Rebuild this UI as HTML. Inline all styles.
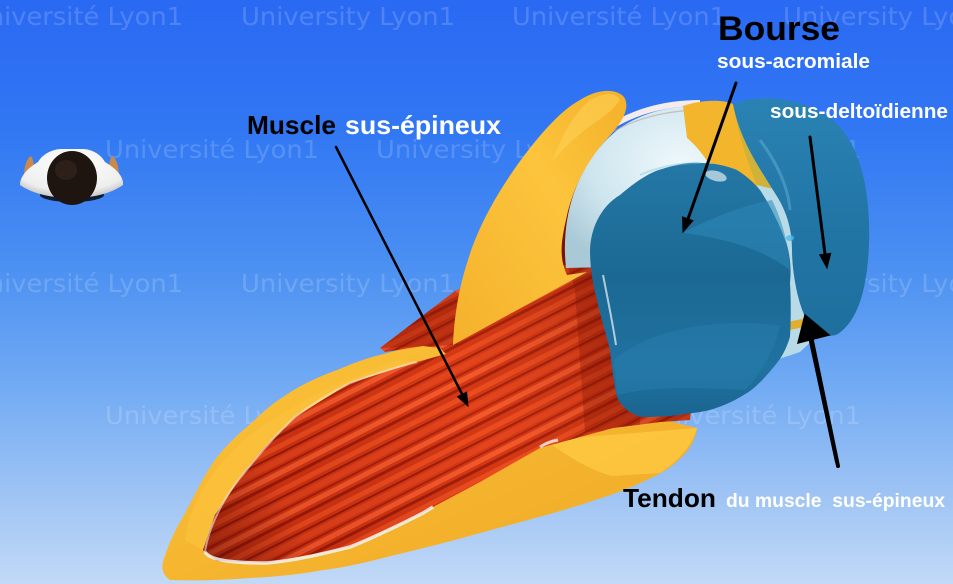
<!DOCTYPE html>
<html>
<head>
<meta charset="utf-8">
<style>
  html,body{margin:0;padding:0;width:953px;height:584px;overflow:hidden;background:#4f8ff2;}
  svg{display:block;}
</style>
</head>
<body>
<svg width="953" height="584" viewBox="0 0 953 584" xmlns="http://www.w3.org/2000/svg">
  <defs>
    <linearGradient id="bg" x1="0" y1="0" x2="0" y2="1">
      <stop offset="0" stop-color="#2a69f3"/>
      <stop offset="0.22" stop-color="#3177f3"/>
      <stop offset="0.45" stop-color="#4a8ff2"/>
      <stop offset="0.65" stop-color="#6fa9f3"/>
      <stop offset="0.82" stop-color="#98c0f4"/>
      <stop offset="1" stop-color="#c2d9f6"/>
    </linearGradient>
    <pattern id="fib" patternUnits="userSpaceOnUse" width="800" height="40" patternTransform="rotate(-27)">
      <rect width="800" height="40" fill="#cf3312"/>
      <rect y="2" width="800" height="5" fill="#e9491d"/>
      <rect y="10" width="800" height="2" fill="#951807"/>
      <rect y="14" width="800" height="6" fill="#e0401a"/>
      <rect y="22" width="800" height="2" fill="#a81d09"/>
      <rect y="26" width="800" height="5" fill="#f2562a"/>
      <rect y="34" width="800" height="3" fill="#9a1906"/>
    </pattern>
    <linearGradient id="mshade" x1="200" y1="560" x2="650" y2="300" gradientUnits="userSpaceOnUse">
      <stop offset="0" stop-color="#4a0802" stop-opacity="0.5"/>
      <stop offset="0.2" stop-color="#4a0802" stop-opacity="0.08"/>
      <stop offset="0.6" stop-color="#ff6a30" stop-opacity="0.1"/>
      <stop offset="1" stop-color="#5a0c02" stop-opacity="0.35"/>
    </linearGradient>
    <clipPath id="mclip">
      <path d="M203,550 L215,515 L240,478 L265,447 L295,417 L350,383 L417,362 L446,354 L440,348 L423,346 L385,352 L380,348 L455,291 L600,225 L700,330 L690,420 L660,422 L613,428 L540,448 L480,482 L433,507 L423,513 L350,547 L267,563 L217,561 Z"/>
    </clipPath>
    <linearGradient id="yel" x1="0" y1="0" x2="1" y2="1">
      <stop offset="0" stop-color="#fbc23a"/>
      <stop offset="1" stop-color="#f0a925"/>
    </linearGradient>
    <linearGradient id="acro" x1="0" y1="1" x2="1" y2="0">
      <stop offset="0" stop-color="#f5b12c"/>
      <stop offset="0.6" stop-color="#fcc43c"/>
      <stop offset="1" stop-color="#f4b02a"/>
    </linearGradient>
    <radialGradient id="headg" cx="0.55" cy="0.35" r="0.7">
      <stop offset="0" stop-color="#eef8fb"/>
      <stop offset="0.6" stop-color="#cfe6ef"/>
      <stop offset="1" stop-color="#a9c9d6"/>
    </radialGradient>
    <linearGradient id="blue1" x1="0" y1="0" x2="0" y2="1">
      <stop offset="0" stop-color="#2478a6"/>
      <stop offset="0.45" stop-color="#1b6893"/>
      <stop offset="0.8" stop-color="#2072a0"/>
      <stop offset="1" stop-color="#1a6590"/>
    </linearGradient>
    <linearGradient id="blue2" x1="0" y1="0" x2="0" y2="1">
      <stop offset="0" stop-color="#2a83b4"/>
      <stop offset="0.5" stop-color="#2176a6"/>
      <stop offset="1" stop-color="#1e6f9e"/>
    </linearGradient>
    <radialGradient id="shoulder" cx="0.5" cy="0.3" r="0.7">
      <stop offset="0" stop-color="#ffffff"/>
      <stop offset="0.8" stop-color="#eeeeee"/>
      <stop offset="1" stop-color="#c8c8c8"/>
    </radialGradient>
  </defs>

  <!-- background -->
  <rect width="953" height="584" fill="url(#bg)"/>

  <!-- watermarks -->
  <g font-family="'DejaVu Sans', Verdana, sans-serif" font-size="25" fill="#ffffff" fill-opacity="0.17">
    <text x="-31" y="25" textLength="214" lengthAdjust="spacingAndGlyphs">Université Lyon1</text>
    <text x="241" y="25" textLength="214" lengthAdjust="spacingAndGlyphs">University Lyon1</text>
    <text x="512" y="25" textLength="214" lengthAdjust="spacingAndGlyphs">Université Lyon1</text>
    <text x="783" y="25" textLength="214" lengthAdjust="spacingAndGlyphs">University Lyon1</text>

    <text x="105" y="158" textLength="214" lengthAdjust="spacingAndGlyphs">Université Lyon1</text>
    <text x="376" y="158" textLength="214" lengthAdjust="spacingAndGlyphs">University Lyon1</text>
    <text x="647" y="158" textLength="214" lengthAdjust="spacingAndGlyphs">Université Lyon1</text>

    <text x="-31" y="292" textLength="214" lengthAdjust="spacingAndGlyphs">Université Lyon1</text>
    <text x="241" y="292" textLength="214" lengthAdjust="spacingAndGlyphs">University Lyon1</text>
    <text x="512" y="292" textLength="214" lengthAdjust="spacingAndGlyphs">Université Lyon1</text>
    <text x="783" y="292" textLength="214" lengthAdjust="spacingAndGlyphs">University Lyon1</text>

    <text x="105" y="424" textLength="214" lengthAdjust="spacingAndGlyphs">Université Lyon1</text>
    <text x="376" y="424" textLength="214" lengthAdjust="spacingAndGlyphs">University Lyon1</text>
    <text x="647" y="424" textLength="214" lengthAdjust="spacingAndGlyphs">Université Lyon1</text>
  </g>

  <!-- little figure seen from above -->
  <g>
    <ellipse cx="72" cy="195" rx="32" ry="7" fill="#0f1c36"/>
    <path d="M24,176 C24,166 27,158 31,156 C34,160 35,170 33,180 Z" fill="#c98a4a"/>
    <path d="M119,176 C119,166 116,158 112,156 C109,160 108,170 110,180 Z" fill="#c98a4a"/>
    <path d="M20,185 C20,176 28,168 38,162 C42,155 50,150 60,149 L84,149 C94,150 101,155 105,162 C115,168 124,176 123,185 C110,194 92,198 72,198 C52,198 33,194 20,185 Z" fill="url(#shoulder)"/>
    <ellipse cx="72" cy="178" rx="25" ry="27" fill="#1e1510"/>
    <ellipse cx="66" cy="170" rx="11" ry="10" fill="#3a2a20" opacity="0.55"/>
  </g>

  <!-- scapula (yellow) incl. lower fin -->
  <path d="M170,580 C164,576 161,570 163,562 C168,545 175,530 183,517 C195,495 205,473 217,457 C227,445 236,436 247,427 C260,415 270,405 283,397 C300,385 318,377 337,370 C352,364 366,358 380,355 C397,350 410,347 423,346 C432,346 440,347 446,353 L520,420 L640,416 C660,418 680,424 697,428 C696,436 693,443 688,450 C678,462 668,470 655,476 C635,486 615,494 595,500 C560,512 520,522 480,533 C445,543 415,550 383,558 C360,564 340,568 317,571 C295,575 272,577 250,578 C225,580 198,581 170,580 Z" fill="url(#yel)"/>
  <!-- fin lighter facet -->
  <path d="M545,440 L697,428 C693,443 680,460 660,473 L612,476 C590,470 570,458 545,440 Z" fill="#fdc63f" opacity="0.9"/>
  <!-- rim inner lighter band -->
  <path d="M185,540 C190,500 215,465 250,435 C290,405 340,380 400,360 L418,362 C360,382 300,410 262,448 C235,478 215,515 203,550 Z" fill="#fcc23c" opacity="0.7"/>

  <!-- muscle -->
  <g clip-path="url(#mclip)">
    <rect x="150" y="200" width="600" height="400" fill="url(#fib)"/>
    <rect x="150" y="200" width="600" height="400" fill="url(#mshade)"/>
    <path d="M560,240 L640,300 L640,430 L585,432 L575,290 Z" fill="#7a1204" opacity="0.3"/>
    <path d="M380,348 L455,291 L470,300 L458,345 Z" fill="#7a1204" opacity="0.35"/>
  </g>
  <!-- white inner edges of scapula -->
  <path d="M205,552 C210,560 230,563 267,563 C300,560 330,552 350,547 C380,535 405,522 423,513 L433,507" fill="none" stroke="#eef2f2" stroke-width="3.5" opacity="0.85"/>
  <path d="M205,552 C208,530 222,500 240,478 C255,460 270,440 295,417 C320,398 340,388 350,383 C380,372 400,366 417,362" fill="none" stroke="#f2e6e0" stroke-width="2" opacity="0.6"/>
  <path d="M540,447 C546,443 552,441 558,440" fill="none" stroke="#eef2f2" stroke-width="3" opacity="0.8"/>

  <!-- dark red strip left of humeral head -->
  <path d="M585,145 C562,178 552,220 553,264 L572,266 C570,225 578,185 600,155 Z" fill="#7a1206"/>

  <!-- humeral head (white dome) -->
  <path d="M566,268 C560,215 578,160 620,128 C655,104 705,100 745,116 L775,190 L700,265 Z" fill="url(#headg)"/>
  <path d="M603,132 C630,112 665,103 700,103" fill="none" stroke="#f4ecec" stroke-width="6"/>
  <path d="M600,140 C628,120 662,111 698,110" fill="none" stroke="#b9a0a0" stroke-width="1.2" opacity="0.6"/>

  <!-- acromion (upper yellow) -->
  <path d="M580,100 C595,90 615,87 624,97 C631,108 622,123 606,140 C586,162 572,190 566,220 C561,242 559,258 567,275 L587,272 L453,345 C454,320 458,290 468,260 C480,220 505,180 530,148 C548,125 565,108 580,100 Z" fill="url(#acro)"/>
  <path d="M590,100 C605,92 616,92 620,100 C612,112 598,120 585,130 C572,140 560,152 552,162 C560,140 572,115 590,100 Z" fill="#fdd055" opacity="0.6"/>

  <!-- yellow piece between head and right bursa -->
  <path d="M683,106 C700,100 722,99 733,104 C742,140 756,165 772,188 L760,200 C745,185 725,170 707,161 C700,150 692,142 687,138 Z" fill="#f3b52c"/>
  <path d="M733,104 C742,140 756,165 772,188 L762,196 C752,175 742,150 733,104 Z" fill="#b8b040" opacity="0.6"/>

  <!-- light gap between bursae -->
  <path d="M757,185 L777,190 C792,212 801,238 803,262 C803,290 808,315 818,335 L800,352 L770,362 C780,330 790,290 786,252 Z" fill="#b9dbe8"/>
  <path d="M788,322 L806,318 L808,326 L790,330 Z" fill="#e2ad30"/>

  <!-- big bursa (sous-acromiale) -->
  <path d="M590,250 C591,225 603,205 620,195 C635,182 650,172 662,169 C678,164 690,162 700,163 C715,163 727,166 737,170 C748,177 755,184 760,190 C770,205 780,225 787,245 C791,260 791,272 790,283 C791,300 791,320 790,337 C786,350 781,358 777,363 C765,378 755,388 747,393 C730,404 712,411 693,413 C675,416 658,417 643,417 C630,415 621,406 617,397 C614,385 612,368 610,350 C605,330 600,315 597,300 C593,285 590,268 590,250 Z" fill="url(#blue1)"/>
  <path d="M683,233 C710,218 745,205 772,200 C782,220 789,245 790,270 C770,255 740,240 683,233 Z" fill="#2d88b8" opacity="0.55"/>
  <path d="M614,360 C650,330 710,318 780,325 C775,350 760,375 745,390 C705,388 660,385 617,395 Z" fill="#2a80b0" opacity="0.45"/>
  <ellipse cx="716" cy="176" rx="11" ry="5" transform="rotate(15 716 176)" fill="#ffffff" opacity="0.6"/>
  <path d="M603,275 C608,300 613,325 616,345" fill="none" stroke="#ffffff" stroke-width="2" opacity="0.65"/>
  <path d="M640,175 C660,166 680,163 700,163" fill="none" stroke="#7cc3e0" stroke-width="2" opacity="0.4"/>

  <!-- right bursa (sous-deltoidienne) -->
  <path d="M733,104 C760,93 805,97 835,122 C860,145 871,190 869,245 C867,290 858,320 838,334 C824,340 810,330 803,312 C796,294 792,268 792,250 C792,232 788,215 778,198 C762,172 740,142 733,104 Z" fill="url(#blue2)"/>
  <path d="M760,140 C775,160 788,185 790,210" fill="none" stroke="#7ec7e4" stroke-width="3" opacity="0.35"/>
  <ellipse cx="790" cy="238" rx="4" ry="3" fill="#4fb8ea" opacity="0.8"/>

  <!-- arrows -->
  <g fill="#000" stroke="#000" stroke-linecap="round">
    <line x1="336" y1="147" x2="462" y2="394" stroke-width="2.5"/>
    <polygon points="468,406 466.6,392.2 457.6,396.7" stroke-width="1"/>

    <line x1="736" y1="83" x2="688" y2="219" stroke-width="3"/>
    <polygon points="683,232 692.9,220.6 682.5,217.0" stroke-width="1"/>

    <line x1="810" y1="137" x2="825" y2="254" stroke-width="3"/>
    <polygon points="827,268 830.7,253.4 819.7,254.8" stroke-width="1"/>

    <path d="M838,466 L811,336" stroke-width="4"/>
    <path d="M836,462 L809,337" stroke-width="2"/>
    <polygon points="805,315 798,343 829,335" stroke-width="1.5"/>
  </g>

  <!-- labels -->
  <g font-family="'Liberation Sans', Arial, Helvetica, sans-serif" font-weight="bold">
    <text x="718" y="40" font-size="34" fill="#000" textLength="122" lengthAdjust="spacingAndGlyphs">Bourse</text>
    <text x="717" y="68" font-size="20" fill="#fff" textLength="153" lengthAdjust="spacingAndGlyphs">sous-acromiale</text>
    <text x="770" y="118" font-size="20" fill="#fff" textLength="178" lengthAdjust="spacingAndGlyphs">sous-deltoïdienne</text>
    <text x="247" y="134" font-size="26" fill="#000" textLength="89" lengthAdjust="spacingAndGlyphs">Muscle</text>
    <text x="345" y="134" font-size="26" fill="#fff" textLength="156" lengthAdjust="spacingAndGlyphs">sus-épineux</text>
    <text x="623" y="507" font-size="26" fill="#000" textLength="93" lengthAdjust="spacingAndGlyphs">Tendon</text>
    <text x="726" y="507" font-size="19" fill="#fff" textLength="219" lengthAdjust="spacingAndGlyphs" xml:space="preserve">du muscle  sus-épineux</text>
  </g>
</svg>
</body>
</html>
